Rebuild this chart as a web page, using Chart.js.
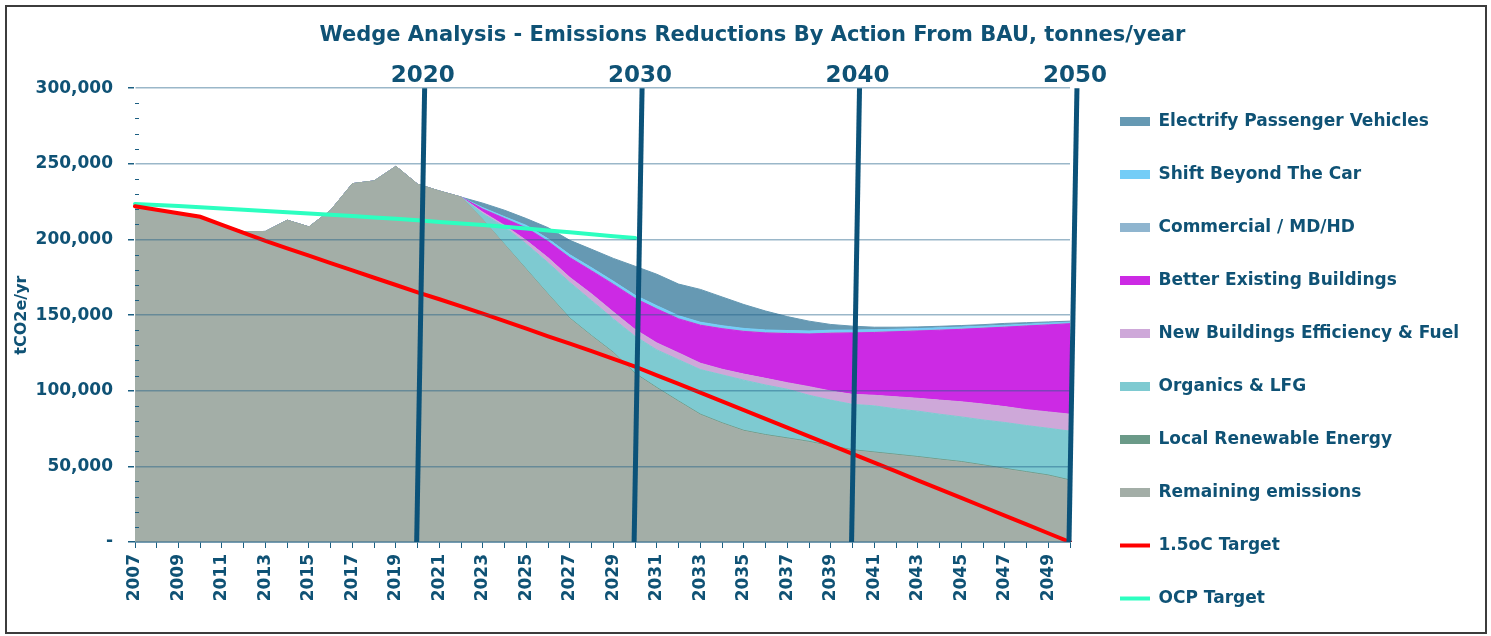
<!DOCTYPE html>
<html>
<head>
<meta charset="utf-8">
<title>Wedge Analysis</title>
<script src="https://cdn.jsdelivr.net/npm/chart.js@4.4.1/dist/chart.umd.min.js"></script>
<style>
  html, body { margin: 0; padding: 0; background: #fff; overflow: hidden; }
  #wrap { position: relative; width: 1491px; height: 636px; overflow: hidden; }
  #frame { position: absolute; left: 5px; top: 5px; width: 1482px; height: 629px; box-sizing: border-box; border: 2px solid #3c3c3c; pointer-events: none; }
  #edge { position: absolute; left: 0; top: 0; width: 5px; height: 636px; background: #fff; }
  #wedgeChart { position: absolute; left: 0; top: 0; }
</style>
</head>
<body>
<div id="wrap">
  <canvas id="wedgeChart" width="1491" height="643"></canvas>
  <div id="edge"></div>
  <div id="frame"></div>
</div>
<script>
// Years on the x axis
const years = ['2007', '2008', '2009', '2010', '2011', '2012', '2013', '2014', '2015', '2016',
  '2017', '2018', '2019', '2020', '2021', '2022', '2023', '2024', '2025', '2026',
  '2027', '2028', '2029', '2030', '2031', '2032', '2033', '2034', '2035', '2036',
  '2037', '2038', '2039', '2040', '2041', '2042', '2043', '2044', '2045', '2046',
  '2047', '2048', '2049', '2050'];

// Stacked wedges (tCO2e/yr), bottom of the stack first
const remaining = [222000, 220000, 217800, 215500, 210000, 205000, 205300, 212700, 208300, 219300,
  236900, 238700, 248300, 236500, 232000, 228000, 213000, 196500, 180000, 163600,
  147600, 136000, 125000, 111000, 101600, 92700, 84000, 78300, 73300, 70500,
  68300, 66000, 63100, 60500, 59000, 57500, 56000, 54300, 52700, 50500,
  48200, 46000, 43800, 40500];
const localRenewable = [0, 0, 0, 0, 0, 0, 0, 0, 0, 0, 0, 0, 0, 0, 0, 0,
  0, 200, 300, 300, 400, 400, 400, 500, 500, 500, 500, 500, 500, 500,
  500, 500, 500, 500, 500, 500, 500, 500, 500, 500, 500, 500, 500, 500];
const organics = [0, 0, 0, 0, 0, 0, 0, 0, 0, 0, 0, 0, 0, 0, 0, 0,
  4000, 11600, 16700, 20700, 23600, 23100, 22100, 24500, 24900, 27300, 29500, 31700, 33200, 32800,
  32200, 30500, 30200, 30000, 30500, 30000, 30000, 29700, 29500, 29700, 30300, 30500, 30900, 32300];
const newBuildings = [0, 0, 0, 0, 0, 0, 0, 0, 0, 0, 0, 0, 0, 0, 0, 0,
  1000, 1000, 2300, 3300, 3300, 4500, 4600, 4500, 4600, 4500, 4200, 3700, 4000, 4400,
  4300, 5700, 6000, 6600, 7000, 8000, 8500, 9300, 10000, 10500, 10500, 10500, 10800, 11200];
const betterBuildings = [0, 0, 0, 0, 0, 0, 0, 0, 0, 0, 0, 0, 0, 0, 0, 0,
  2000, 4500, 8200, 10700, 13000, 15200, 18200, 20500, 22400, 22500, 25100, 26800, 28200, 30000,
  32500, 34800, 38200, 40600, 41500, 43000, 44500, 46200, 47900, 50100, 52500, 55300, 57500, 59800];
const commercial = [0, 0, 0, 0, 0, 0, 0, 0, 0, 0, 0, 0, 0, 0, 0, 0,
  200, 300, 300, 300, 300, 300, 300, 300, 300, 300, 300, 300, 300, 300,
  300, 300, 300, 300, 300, 300, 300, 300, 300, 300, 300, 300, 300, 300];
const shiftCar = [0, 0, 0, 0, 0, 0, 0, 0, 0, 0, 0, 0, 0, 0, 0, 0,
  800, 900, 1500, 1500, 1700, 1800, 1800, 1800, 1900, 1800, 1700, 1700, 1700, 1700,
  1700, 1700, 1700, 1600, 1500, 1400, 1300, 1300, 1200, 1100, 1000, 900, 900, 700];
const electrify = [0, 0, 0, 0, 0, 0, 0, 0, 0, 0, 0, 0, 0, 0, 0, 0,
  3000, 4300, 4500, 7400, 9500, 12200, 15100, 19200, 20800, 20900, 21700, 19000, 15800, 12500,
  9200, 6500, 3800, 2600, 1700, 1300, 1100, 1000, 1000, 1000, 1200, 1000, 800, 700];

// Target lines
const target15 = [222000, 219700, 217300, 215000, 209700, 204300, 199000, 194100, 189300, 184400,
  179600, 174700, 169900, 165000, 160500, 155800, 151000, 146000, 141000, 136000,
  131200, 126200, 121000, 116000, 110200, 104500, 98700, 92900, 87200, 81400,
  75600, 69800, 64100, 58300, 52500, 46700, 40800, 35000, 29200, 23300,
  17500, 11700, 5800, 0];
const targetOcp = [223500, 222800, 222100, 221300, 220400, 219600, 218800, 218000, 217200, 216400,
  215500, 214600, 213700, 212700, 211500, 210500, 209500, 208400, 207200, 206000,
  204800, 203500, 202200, 201000, null, null, null, null, null, null,
  null, null, null, null, null, null, null, null, null, null,
  null, null, null, null];

const decadeYears = ['2020', '2030', '2040', '2050'];
const legendOrder = ['Electrify Passenger Vehicles', 'Shift Beyond The Car', 'Commercial / MD/HD',
  'Better Existing Buildings', 'New Buildings Efficiency & Fuel', 'Organics & LFG',
  'Local Renewable Energy', 'Remaining emissions', '1.5oC Target', 'OCP Target'];

const textBlue = '#0f5275';
const axisBlue = '#1b5f82';
const lineBlue = '#0b5279';
const fontFamily = "'DejaVu Sans', 'Open Sans', sans-serif";
const slant = 0.32;      // decade markers lean right by a fraction of a year at the top
const legendWidth = 407; // fixed width of the legend column on the right

function area(label, data, color, fill) {
  return {
    label: label, data: data, fill: fill, stack: 'wedges',
    backgroundColor: color, borderColor: color, borderWidth: 1,
    pointRadius: 0, pointHoverRadius: 0, pointStyle: 'rect',
    pointBackgroundColor: color, pointBorderWidth: 0, tension: 0
  };
}

function target(label, data, color, stackKey) {
  return {
    label: label, data: data, fill: false, stack: stackKey, order: -1,
    backgroundColor: color, borderColor: color, borderWidth: 4, borderCapStyle: 'round',
    pointRadius: 0, pointHoverRadius: 0, pointStyle: 'line',
    pointBorderColor: color, pointBorderWidth: 4, tension: 0, spanGaps: false
  };
}

// keep the legend column at a fixed width whatever the font measures
const legendSize = {
  id: 'legendSize',
  beforeLayout(chart) {
    const lg = chart.legend;
    if (!lg || lg._fixedWidth) return;
    const fit = lg.fit;
    lg.fit = function() {
      fit.call(this);
      this.width = legendWidth;
    };
    lg._fixedWidth = true;
  }
};

// Slanted decade markers, their labels and the small inner ticks on the y axis
const decadeLines = {
  id: 'decadeLines',
  afterDraw(chart) {
    const { ctx, chartArea, scales } = chart;
    const x = scales.x, y = scales.y;
    ctx.save();
    ctx.strokeStyle = axisBlue;
    ctx.lineWidth = 1;
    for (let v = 10000; v < 300000; v += 10000) {
      if (v % 50000 === 0) continue;
      const py = Math.round(y.getPixelForValue(v)) + 0.5;
      ctx.beginPath();
      ctx.moveTo(chartArea.left, py);
      ctx.lineTo(chartArea.left + 4, py);
      ctx.stroke();
    }
    ctx.strokeStyle = lineBlue;
    ctx.lineWidth = 5;
    ctx.fillStyle = textBlue;
    ctx.font = 'bold 23px ' + fontFamily;
    ctx.textAlign = 'center';
    ctx.textBaseline = 'alphabetic';
    decadeYears.forEach(function(yr) {
      const idx = years.indexOf(yr);
      const xb = x.getPixelForValue(idx) - 1;
      const xt = x.getPixelForValue(idx + slant);
      ctx.beginPath();
      ctx.moveTo(xb, chartArea.bottom);
      ctx.lineTo(xt, chartArea.top);
      ctx.stroke();
      ctx.fillText(yr, xt - 2, chartArea.top - 6);
    });
    ctx.restore();
  }
};

new Chart(document.getElementById('wedgeChart'), {
  type: 'line',
  data: {
    labels: years,
    datasets: [
      area('Remaining emissions', remaining, '#a3aea7', 'origin'),
      area('Local Renewable Energy', localRenewable, '#6b9a88', '-1'),
      area('Organics & LFG', organics, '#7ecad1', '-1'),
      area('New Buildings Efficiency & Fuel', newBuildings, '#cea8d9', '-1'),
      area('Better Existing Buildings', betterBuildings, '#cc2ae4', '-1'),
      area('Commercial / MD/HD', commercial, '#8fb5cf', '-1'),
      area('Shift Beyond The Car', shiftCar, '#74cdf7', '-1'),
      area('Electrify Passenger Vehicles', electrify, '#6699b3', '-1'),
      target('1.5oC Target', target15, '#ff0000', 'target15'),
      target('OCP Target', targetOcp, '#2cffc0', 'targetOcp')
    ]
  },
  options: {
    responsive: false,
    animation: false,
    events: [],
    layout: { padding: { left: 14, right: 0, top: 0, bottom: 0 } },
    scales: {
      x: {
        type: 'category',
        offset: false,
        afterFit: function(s) { s.height = 101; },
        grid: { display: true, drawOnChartArea: false, color: axisBlue, tickLength: 6, tickColor: axisBlue },
        border: { display: true, color: axisBlue, width: 1.5 },
        ticks: {
          autoSkip: false, maxRotation: 90, minRotation: 90, padding: 6,
          color: textBlue, font: { family: fontFamily, size: 17, weight: 'bold' },
          callback: function(val, i) { return i % 2 === 0 ? years[i] : ''; }
        }
      },
      xTop: {
        axis: 'x', type: 'linear', position: 'top', display: false,
        afterFit: function(s) { s.height = 30; }
      },
      y: {
        stacked: true,
        min: 0, max: 300000,
        afterFit: function(s) { s.width = 121; },
        grid: { color: 'rgba(30, 95, 135, 0.45)', lineWidth: 1.5, tickLength: 7, tickColor: axisBlue, z: 1 },
        border: { display: true, color: axisBlue, width: 1.5 },
        ticks: {
          stepSize: 50000, padding: 15, color: textBlue,
          font: { family: fontFamily, size: 17, weight: 'bold' },
          callback: function(v) { return v === 0 ? '-' : v.toLocaleString('en-US'); }
        },
        title: {
          display: true, text: 'tCO2e/yr', color: textBlue, padding: { top: 0, bottom: 0 },
          font: { family: fontFamily, size: 16, weight: 'bold', lineHeight: 1 }
        }
      },
      yRight: {
        axis: 'y', type: 'linear', position: 'right', display: false,
        afterFit: function(s) { s.width = 14; }
      }
    },
    plugins: {
      title: {
        display: true,
        text: 'Wedge Analysis - Emissions Reductions By Action From BAU, tonnes/year',
        color: textBlue,
        font: { family: fontFamily, size: 21, weight: 'bold' },
        padding: { top: 23, bottom: 10 }
      },
      legend: {
        position: 'right',
        align: 'end',
        labels: {
          usePointStyle: true,
          pointStyleWidth: 30,
          boxHeight: 9,
          padding: 36,
          color: textBlue,
          font: { family: fontFamily, size: 17, weight: 'bold' },
          sort: function(a, b) { return legendOrder.indexOf(a.text) - legendOrder.indexOf(b.text); }
        }
      },
      tooltip: { enabled: false }
    }
  },
  plugins: [legendSize, decadeLines]
});
</script>
</body>
</html>
